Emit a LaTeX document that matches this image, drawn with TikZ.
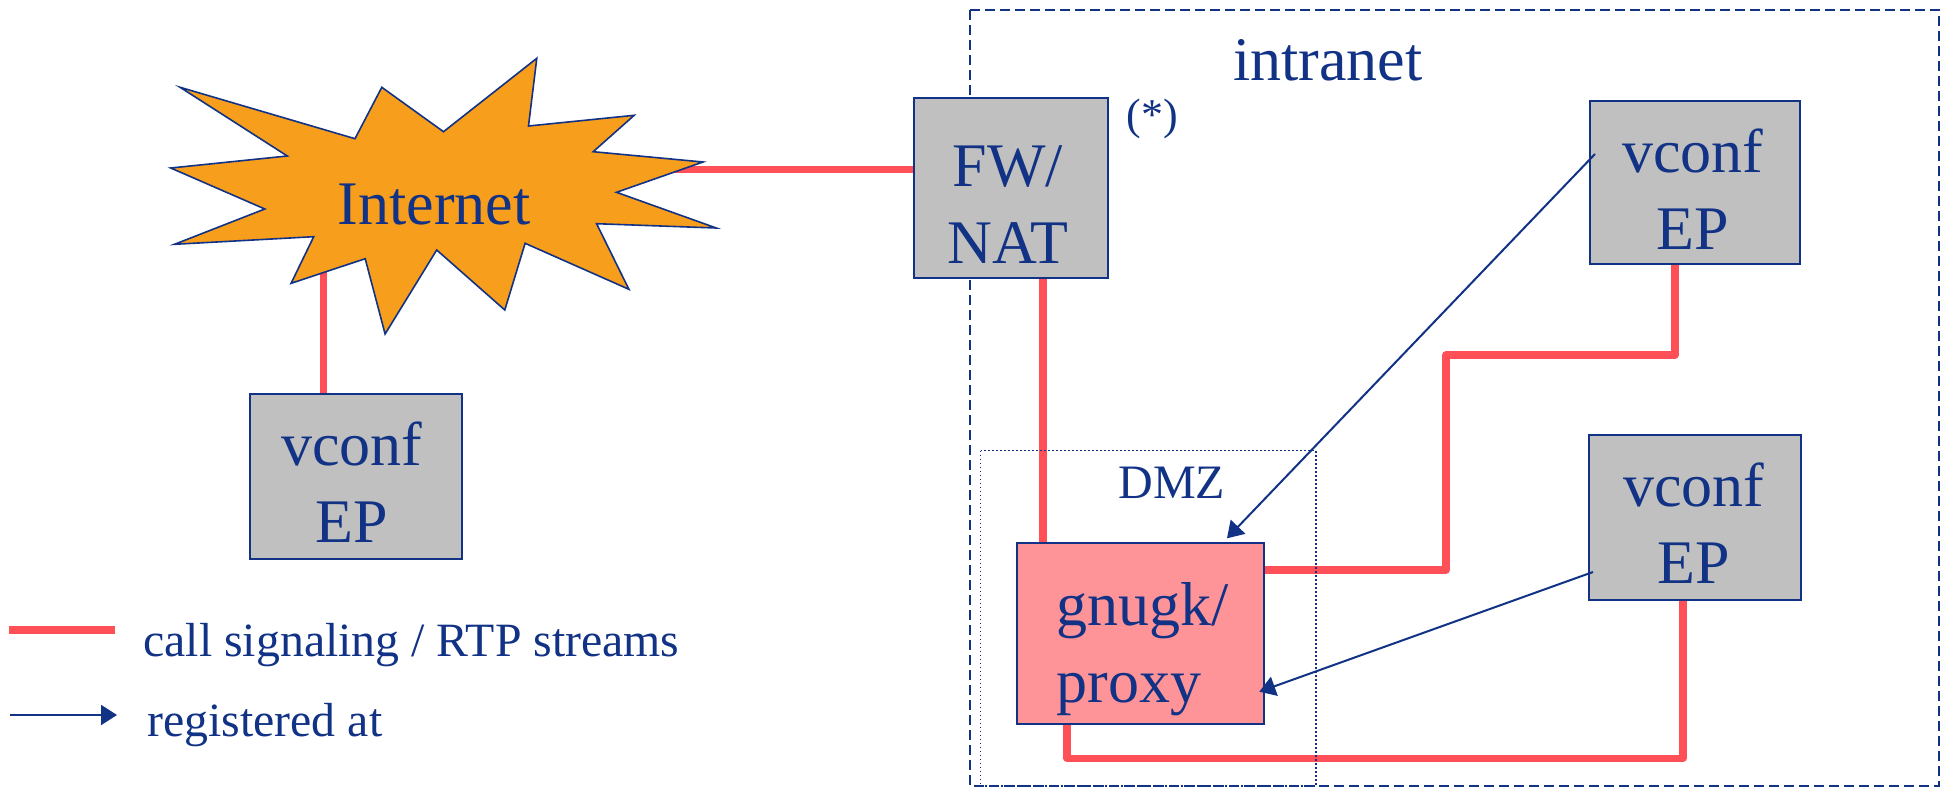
\documentclass[tikz,border=0pt]{standalone}
\usepackage{fontspec}
\setmainfont{Liberation Serif}
\usetikzlibrary{arrows.meta}
\definecolor{tblue}{RGB}{17,50,133}
\definecolor{torange}{RGB}{247,158,29}
\definecolor{tred}{RGB}{255,80,88}
\definecolor{tpink}{RGB}{255,148,152}
\definecolor{tgray}{RGB}{192,192,192}
\pgfdeclarelayer{bg}
\pgfsetlayers{bg,main}
\begin{document}
\begin{tikzpicture}[x=0.5pt,y=-0.5pt,
  sig/.style={draw=tred,line width=3.7pt,line join=round},
  reg/.style={draw=tblue,line width=1pt,-{Triangle[length=8pt,width=10pt]}},
  box/.style={draw=tblue,line width=1pt,fill=tgray,inner sep=0pt},
  gkbox/.style={draw=tblue,line width=1pt,fill=tpink,inner sep=0pt},
  txt/.style={text=tblue,inner sep=0pt,font=\fontsize{31}{38.5}\selectfont,align=center},
  smalltxt/.style={text=tblue,inner sep=0pt,font=\fontsize{22}{26}\selectfont},
  dmztxt/.style={text=tblue,inner sep=0pt,font=\fontsize{24}{29}\selectfont},
  legtxt/.style={text=tblue,inner sep=0pt,font=\fontsize{23.9}{28}\selectfont},
  intrabox/.style={draw=tblue,line width=0.75pt,dash pattern=on 5pt off 2.5pt},
  dmzbox/.style={draw=tblue,line width=0.7pt,dash pattern=on 0.8pt off 1.2pt}]
\useasboundingbox (0,0) rectangle (1945,787);

% zones
\draw[intrabox] (970,10) rectangle (1939,786);
\draw[dmzbox] (980.7,450.7) rectangle (1316,786);

% boxes (labels placed separately)
\node[box,minimum width=106.2pt,minimum height=82.5pt] (ep0) at (356.2,476.5) {};
\node[box,minimum width=96.8pt,minimum height=90pt] (fw) at (1010.7,187.7) {};
\node[box,minimum width=105.2pt,minimum height=81.7pt] (ep1) at (1695,182.3) {};
\node[box,minimum width=105.9pt,minimum height=82.8pt] (ep2) at (1695,517.5) {};
\node[gkbox,minimum width=123.3pt,minimum height=90.3pt] (gk) at (1140.7,633.7) {};

% helper coordinates
\coordinate (inetE) at (600,169.5);
\coordinate (inetS) at (323.3,265);
\coordinate (cfw) at (1043,0);
\coordinate (cgkR) at (0,570);
\coordinate (k1) at (1446,570);
\coordinate (k2) at (1446,355);
\coordinate (cep1) at (1675,355);
\coordinate (k3) at (1683,758.3);
\coordinate (k4) at (1067,758.3);
\coordinate (r1s) at (1595,154);
\coordinate (r1e) at (1227,538.3);
\coordinate (r2s) at (1593,572);
\coordinate (r2e) at (1259.3,691.7);

% signalling lines (behind boxes)
\begin{pgfonlayer}{bg}
\draw[sig] (inetE) -- (inetE -| fw.west);
\draw[sig] (inetS) -- (inetS |- ep0.north);
\draw[sig] (cfw |- fw.south) -- (cfw |- gk.north);
\draw[sig] (cgkR -| gk.east) -- (k1) -- (k2) -- (cep1) -- (cep1 |- ep1.south);
\draw[sig] (k3 |- ep2.south) -- (k3) -- (k4) -- (k4 |- gk.south);
\end{pgfonlayer}

% Internet cloud
\draw[fill=torange,draw=tblue,line width=0.8pt,line join=miter]
 (180.1,87.3) -- (287.3,156) -- (170.7,168) -- (264.8,209) -- (174.5,244.3)
 -- (313.7,236.7) -- (291.1,283.3) -- (365.2,258.7) -- (385.1,334) -- (436.7,250)
 -- (504.8,310) -- (525.1,243.3) -- (628.9,289.3) -- (596.6,223.7) -- (716.2,228)
 -- (616.5,192.3) -- (703.0,162) -- (593.2,151.7) -- (634.2,115.3) -- (528.5,126)
 -- (536.8,58.3) -- (443.5,131.7) -- (381.8,87.3) -- (355.0,138.7) -- cycle;
\node[txt] (inet) at (434,204.5) {Internet};

% labels
\node[txt] (l0) at (352,482) {vconf\\EP};
\node[txt] (lfw) at (1008,205) {FW/\\NAT};
\node[txt] (l1) at (1693,188.8) {vconf\\EP};
\node[txt] (l2) at (1694,523.6) {vconf\\EP};
\node[txt,align=left] (lgk) at (1142.5,649.6) {gnugk/\\proxy};
\node[txt] (intra) at (1328,60.7) {intranet};
\node[smalltxt] (ast) at (1152,119) {(*)};
\node[dmztxt] (dmz) at (1171.7,482.5) {DMZ};

% registration arrows
\draw[reg] (r1s) -- (r1e);
\draw[reg] (r2s) -- (r2e);

% legend
\coordinate (lg1a) at (9,630);
\coordinate (lg1b) at (115,630);
\coordinate (lg2a) at (10,715);
\coordinate (lg2b) at (117,715);
\draw[draw=tred,line width=3.7pt] (lg1a) -- (lg1b);
\draw[reg] (lg2a) -- (lg2b);
\node[legtxt,anchor=base west] (leg1) at (143,656.7) {call signaling / RTP streams};
\node[legtxt,anchor=base west] (leg2) at (147,736.7) {registered at};
\end{tikzpicture}
\end{document}
